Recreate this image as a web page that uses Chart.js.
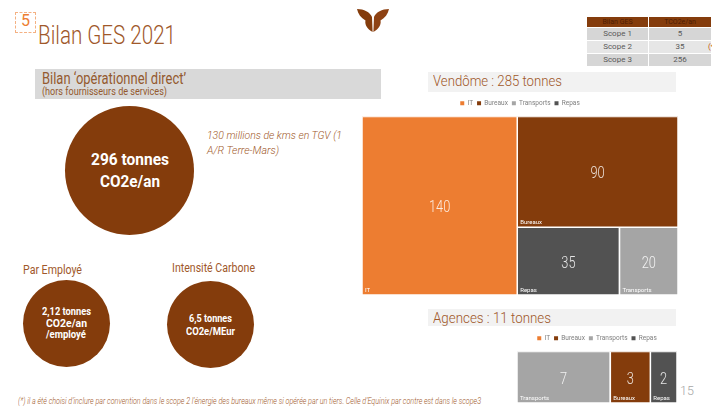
<!DOCTYPE html>
<html>
<head>
<meta charset="utf-8">
<script src="https://cdn.jsdelivr.net/npm/chart.js@4.4.1/dist/chart.umd.min.js"></script>
<style>
  html, body { margin: 0; padding: 0; }
  body { width: 712px; height: 407px; position: relative; overflow: hidden; background: #fff; font-family: Roboto, sans-serif; }
  .t { position: absolute; white-space: nowrap; line-height: 1; transform-origin: 0 0; }
  .brown { color: #A0582A; }
  .disc { position: absolute; border-radius: 50%; background: #843C0C; }
  .w { color: #fff; font-weight: 700; }
  .box { position: absolute; }
  canvas { position: absolute; }
  #scopes { position: absolute; left: 587px; top: 16.5px; border-collapse: collapse; font-size: 8px; color: #595959; }
  #scopes td, #scopes th { width: 65px; padding: 0; text-align: center; border-right: 1px solid #fff; border-bottom: 1px solid #fff; }
  #scopes th { background: #843C0C; color: #4E1D04; font-weight: 400; font-size: 7px; height: 10px; }
  #scopes td { height: 12px; }
</style>
</head>
<body>

<div class="box" style="left:14.5px;top:11.5px;width:19px;height:19px;border:1px dashed #F4B183;"></div>
<div class="t" style="left:21px;top:13px;font-size:16px;color:#ED7D31;">5</div>
<div class="t brown" data-w="138" style="left:38px;top:22px;font-size:26px;font-weight:300;">Bilan GES 2021</div>

<svg style="position:absolute;left:355px;top:7px" width="36" height="28" viewBox="0 0 36 28">
  <path d="M2,2 C9,2 15,5 17,10 L17.6,25 C12,22 9.5,17 10.5,13.5 C6,11 3,7 2,2 Z" fill="#843C0C"/>
  <path d="M34,2 C27,2 21,5 19,10 L18.4,25 C24,22 26.5,17 25.5,13.5 C30,11 33,7 34,2 Z" fill="#8E4213"/>
</svg>

<table id="scopes"></table>
<div class="t" style="left:708px;top:42.5px;font-size:8px;color:#C55A11;">(*)</div>

<div class="box" style="left:35px;top:69px;width:346px;height:30px;background:#D9D9D9;"></div>
<div class="t" data-w="144" style="left:41.5px;top:71px;font-size:16px;color:#94592F;">Bilan ‘opérationnel direct’</div>
<div class="t" data-w="125" style="left:41.5px;top:86.5px;font-size:10.5px;color:#94592F;">(hors fournisseurs de services)</div>

<div class="disc" style="left:65px;top:106px;width:129px;height:129px;"></div>
<div class="t w" data-w="78" data-cx="129.5" style="top:152.2px;font-size:16px;">296 tonnes</div>
<div class="t w" data-w="60" data-cx="129.5" style="top:173.8px;font-size:16px;">CO2e/an</div>

<div class="t brown" data-w="135" style="left:207px;top:131.2px;font-size:10.5px;font-style:italic;font-weight:300;">130 millions de kms en TGV (1</div>
<div class="t brown" data-w="72" style="left:207px;top:145.5px;font-size:10.5px;font-style:italic;font-weight:300;">A/R Terre-Mars)</div>

<div class="t brown" data-w="59" style="left:23px;top:263.5px;font-size:12.5px;">Par Employé</div>
<div class="t brown" data-w="83" style="left:172px;top:262.2px;font-size:12.5px;">Intensité Carbone</div>

<div class="disc" style="left:22.5px;top:280px;width:87px;height:87px;"></div>
<div class="t w" data-w="49" data-cx="66" style="top:306.4px;font-size:11px;">2,12 tonnes</div>
<div class="t w" data-w="41" data-cx="66" style="top:318.4px;font-size:11px;">CO2e/an</div>
<div class="t w" data-w="40" data-cx="66" style="top:329.2px;font-size:11px;">/employé</div>

<div class="disc" style="left:166.5px;top:280.5px;width:87px;height:87px;"></div>
<div class="t w" data-w="43" data-cx="210" style="top:313.4px;font-size:11px;">6,5 tonnes</div>
<div class="t w" data-w="49" data-cx="210" style="top:325.7px;font-size:11px;">CO2e/MEur</div>

<div class="t brown" data-w="463" style="left:18px;top:396.8px;font-size:8.5px;font-style:italic;font-weight:300;">(*) il a été choisi d’inclure par convention dans le scope 2 l’énergie des bureaux même si opérée par un tiers. Celle d’Equinix par contre est dans le scope3</div>

<div class="box" style="left:428px;top:72px;width:248px;height:20px;background:#F2F2F2;"></div>
<div class="t brown" data-w="129" style="left:433px;top:74.2px;font-size:15.5px;font-weight:300;">Vendôme : 285 tonnes</div>
<canvas id="vendome" width="316" height="199" style="left:362px;top:96px;"></canvas>

<div class="box" style="left:428px;top:309px;width:248px;height:17px;background:#F2F2F2;"></div>
<div class="t brown" data-w="118" style="left:433px;top:311px;font-size:15.5px;font-weight:300;">Agences : 11 tonnes</div>
<canvas id="agences" width="160" height="72" style="left:517px;top:331px;"></canvas>

<div class="t" style="left:680px;top:384.5px;font-size:12.5px;font-weight:300;color:#A6A6A6;">15</div>

<script>
const categories = ['IT', 'Bureaux', 'Transports', 'Repas'];
const vendomeValues = [140, 90, 20, 35];
const agencesValues = [0, 3, 7, 2];
const catColors = ['#ED7D31', '#843C0C', '#A5A5A5', '#525252'];

const scopeLabels = ['Scope 1', 'Scope 2', 'Scope 3'];
const scopeValues = [5, 35, 256];

// table
const tbl = document.getElementById('scopes');
let html = '<tr><th>Bilan GES</th><th>TCO2e/an</th></tr>';
scopeLabels.forEach((s, i) => {
  const bg = i % 2 === 0 ? '#D6D6D6' : '#E6E6E6';
  html += '<tr style="background:' + bg + '"><td>' + s + '</td><td>' + scopeValues[i] + '</td></tr>';
});
tbl.innerHTML = html;

// condensed look: squeeze texts to the widths seen on the slide
function fitText() {
  document.querySelectorAll('[data-w]').forEach(el => {
    el.style.transform = 'none';
    const w = el.getBoundingClientRect().width;
    const target = parseFloat(el.dataset.w);
    el.style.transform = 'scaleX(' + (target / w) + ')';
    if (el.dataset.cx) el.style.left = (parseFloat(el.dataset.cx) - target / 2) + 'px';
  });
}
fitText();
if (document.fonts) document.fonts.ready.then(fitText);

function worst(row, s) {
  const sum = row.reduce((a, d) => a + d.area, 0);
  const mx = Math.max(...row.map(d => d.area));
  const mn = Math.min(...row.map(d => d.area));
  return Math.max(s * s * mx / (sum * sum), sum * sum / (s * s * mn));
}

function squarify(items, x, y, w, h) {
  const out = [];
  let rest = items.slice();
  while (rest.length) {
    const s = Math.min(w, h);
    const row = [rest[0]];
    let i = 1;
    while (i < rest.length && worst(row.concat(rest[i]), s) <= worst(row, s)) { row.push(rest[i]); i++; }
    rest = rest.slice(i);
    const rowArea = row.reduce((a, d) => a + d.area, 0);
    if (w >= h) {
      const cw = rowArea / h;
      let cy = y;
      row.forEach(d => { const rh = d.area / cw; out.push({ i: d.i, x0: x, x1: x + cw, y0: cy, y1: cy + rh }); cy += rh; });
      x += cw; w -= cw;
    } else {
      const rh = rowArea / w;
      let cx = x;
      row.forEach(d => { const rw = d.area / rh; out.push({ i: d.i, x0: cx, x1: cx + rw, y0: y, y1: y + rh }); cx += rw; });
      y += rh; h -= rh;
    }
  }
  return out;
}

const cellLabels = {
  id: 'cellLabels',
  afterDatasetsDraw(chart) {
    const ctx = chart.ctx;
    const sx = chart.scales.x, sy = chart.scales.y;
    chart.data.datasets.forEach(ds => {
      const r = ds.rect;
      if (!r) return;
      const l = sx.getPixelForValue(r.x0), rr = sx.getPixelForValue(r.x1);
      const t = sy.getPixelForValue(r.y0), b = sy.getPixelForValue(r.y1);
      ctx.save();
      ctx.fillStyle = 'rgba(255,255,255,0.85)';
      ctx.font = '300 16px Roboto';
      ctx.textAlign = 'center';
      ctx.textBaseline = 'middle';
      ctx.translate((l + rr) / 2, (t + b) / 2 + 2.5);
      ctx.scale(0.8, 1);
      ctx.fillText(String(ds.value), 0, 0);
      ctx.restore();
      ctx.save();
      ctx.fillStyle = '#fff';
      ctx.font = '6px Roboto';
      ctx.textAlign = 'left';
      ctx.textBaseline = 'alphabetic';
      ctx.fillText(ds.label, l + 3, b - 3.5);
      ctx.restore();
    });
  }
};

function treemap(id, values, boxW, boxH) {
  const total = values.reduce((a, v) => a + v, 0);
  const items = categories.map((c, i) => ({ i: i, v: values[i] }))
    .filter(d => d.v > 0)
    .sort((a, b) => b.v - a.v);
  items.forEach(d => { d.area = d.v / total * boxW * boxH; });
  const rects = squarify(items, 0, 0, boxW, boxH);

  const datasets = categories.map((c, i) => {
    const r = rects.find(q => q.i === i);
    return {
      label: c,
      value: values[i],
      rect: r,
      data: r ? [
        { x: r.x0, y: r.y0 }, { x: r.x1, y: r.y0 }, { x: r.x1, y: r.y1 },
        { x: r.x0, y: r.y1 }, { x: r.x0, y: r.y0 }
      ] : [],
      backgroundColor: catColors[i],
      borderColor: '#fff',
      borderWidth: 1.5,
      borderJoinStyle: 'miter',
      showLine: true,
      fill: 'shape',
      pointRadius: 0
    };
  });

  new Chart(document.getElementById(id), {
    type: 'scatter',
    data: { datasets: datasets },
    options: {
      responsive: false,
      animation: false,
      layout: { padding: 0 },
      scales: {
        x: { type: 'linear', min: 0, max: boxW, display: false },
        y: { type: 'linear', min: 0, max: boxH, reverse: true, display: false }
      },
      plugins: {
        tooltip: { enabled: false },
        legend: {
          position: 'top',
          labels: {
            font: { family: 'Roboto', size: 6.5 },
            color: '#7F7F7F',
            boxWidth: 4,
            boxHeight: 4,
            padding: 4,
            generateLabels: chart => chart.data.datasets.map((d, i) => ({
              text: d.label, fillStyle: d.backgroundColor, strokeStyle: d.backgroundColor,
              lineWidth: 0, hidden: false, datasetIndex: i, fontColor: '#7F7F7F'
            }))
          }
        }
      }
    },
    plugins: [cellLabels]
  });
}

treemap('vendome', vendomeValues, 316, 179);
treemap('agences', agencesValues, 160, 52);
</script>
</body>
</html>
